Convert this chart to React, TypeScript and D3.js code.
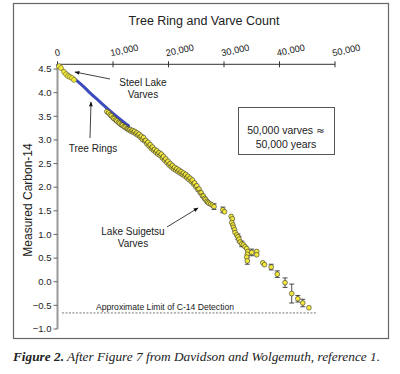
import React from "react";
import * as d3 from "d3";

const xTicks = [0, 10000, 20000, 30000, 40000, 50000];
const yTicks = [4.5, 4.0, 3.5, 3.0, 2.5, 2.0, 1.5, 1.0, 0.5, 0.0, -0.5, -1.0];

const treeX = [0, 800, 1900, 3300, 4600, 5900, 7700, 9100, 10700, 12000, 12800];
const treeY = [4.58, 4.5, 4.39, 4.27, 4.14, 3.99, 3.8, 3.65, 3.49, 3.37, 3.3];

const steelX = [270, 630, 1170, 1530, 1890, 2250, 2610, 2970];
const steelY = [4.56, 4.52, 4.44, 4.39, 4.35, 4.33, 4.31, 4.27];

const suigX = [
  8900, 9200, 9500, 9700, 10000, 10200, 10500, 10700, 11000, 11200, 11500, 11700, 12000, 12200,
  12500, 12700, 12900, 13100, 13300, 13500, 13700, 13900, 14100, 14300, 14500, 14700, 14900,
  15100, 15300, 15500, 15700, 15900, 16100, 16300, 16500, 16700, 16900, 17100, 17300, 17500,
  17700, 17900, 18100, 18300, 18500, 18700, 18900, 19100, 19300, 19500, 19700, 19900, 20100,
  20300, 20500, 20700, 20900, 21100, 21300, 21500, 21700, 21900, 22100, 22300, 22500, 22700,
  22900, 23100, 23300, 23500, 23700, 23900, 24100, 24300, 24500, 24700, 24900, 25100, 25300,
  25500, 25700, 25900, 26100, 26300, 26500, 26700, 26900, 27100, 27300, 27600, 27900, 28200,
  29800, 30100, 31300, 31500, 31400, 31600, 31700, 31900, 32000, 32300, 32500, 32700, 32900,
  33200, 33500, 33800, 34100, 34300, 34200, 34100, 34200, 35000, 35900, 35900, 37000, 37300,
  38500, 39600, 41000, 42200, 43300, 44200, 45300,
];
const suigY = [
  3.6, 3.57, 3.53, 3.51, 3.47, 3.45, 3.42, 3.4, 3.37, 3.35, 3.32, 3.31, 3.28, 3.27,
  3.24, 3.23, 3.21, 3.22, 3.18, 3.2, 3.16, 3.18, 3.13, 3.15, 3.1, 3.12, 3.06,
  3.08, 3.01, 3.05, 2.98, 2.99, 2.92, 2.95, 2.87, 2.9, 2.82, 2.85, 2.78, 2.8,
  2.74, 2.77, 2.7, 2.73, 2.67, 2.7, 2.62, 2.65, 2.57, 2.6, 2.52, 2.55, 2.47,
  2.5, 2.43, 2.46, 2.39, 2.42, 2.36, 2.39, 2.33, 2.36, 2.3, 2.33, 2.27, 2.3,
  2.24, 2.27, 2.2, 2.23, 2.16, 2.19, 2.12, 2.15, 2.07, 2.09, 2.01, 2.03, 1.95,
  1.96, 1.89, 1.88, 1.82, 1.81, 1.76, 1.74, 1.7, 1.68, 1.66, 1.64, 1.62, 1.59,
  1.52, 1.48, 1.38, 1.33, 1.25, 1.2, 1.15, 1.1, 1.04, 0.99, 0.95, 0.9, 0.84,
  0.8, 0.78, 0.74, 0.7, 0.64, 0.58, 0.52, 0.44, 0.62, 0.64, 0.57, 0.4, 0.36,
  0.31, 0.16, -0.02, -0.25, -0.36, -0.45, -0.55,
];
const suigErr = [
  0, 0, 0, 0, 0, 0, 0, 0, 0, 0, 0, 0, 0, 0,
  0, 0, 0, 0, 0, 0, 0, 0, 0, 0, 0, 0, 0,
  0, 0, 0, 0, 0, 0, 0, 0, 0, 0, 0, 0, 0,
  0, 0, 0, 0, 0, 0, 0, 0, 0, 0, 0, 0, 0,
  0, 0, 0, 0, 0, 0, 0, 0, 0, 0, 0, 0, 0,
  0, 0, 0, 0, 0, 0, 0, 0, 0, 0, 0, 0, 0,
  0, 0, 0, 0, 0, 0, 0, 0, 0, 0, 0, 0,
  0.06, 0.06, 0, 0, 0, 0, 0, 0, 0, 0, 0, 0.06, 0.06,
  0, 0.06, 0, 0, 0, 0, 0, 0, 0.07, 0.07, 0, 0, 0,
  0, 0.06, 0.07, 0.1, 0.2, 0.07, 0.08,
];

const limitX = [800, 46700];
const limitY = -0.66;

export default function App() {
  const W = 400;
  const H = 374;
  const x = d3.scaleLinear().domain([0, 50000]).range([57.5, 335]);
  const y = d3.scaleLinear().domain([-1.0, 4.6]).range([329, 64.3]);
  const line = d3
    .line<number>()
    .x((_, i) => x(treeX[i]))
    .y((d) => y(d))
    .curve(d3.curveMonotoneX);
  const sans = "'Liberation Sans', Arial, sans-serif";
  const yellow = "#f3e83a";
  const fmt = d3.format(",");
  const yFmt = d3.format(".1f");

  return (
    <svg width={W} height={H} style={{ position: "absolute", left: 0, top: 0 }}>
      <defs>
        <marker id="ah" viewBox="0 0 10 10" refX="9" refY="5" markerWidth="7" markerHeight="6" orient="auto">
          <path d="M0,1 L10,5 L0,9 Z" fill="#111" />
        </marker>
      </defs>
      <rect x={0} y={0} width={W} height={H} fill="#fff" />
      <rect x={13.5} y={3.5} width={375} height={335} fill="none" stroke="#666" strokeWidth={1.2} />

      <text x={204} y={25} textAnchor="middle" fontFamily={sans} fontSize={12.5} fill="#222">
        Tree Ring and Varve Count
      </text>

      {/* top x axis */}
      <line x1={x(0)} x2={x(50000)} y1={y(4.6)} y2={y(4.6)} stroke="#333" strokeWidth={1} />
      {xTicks.map((t) => (
        <g key={t}>
          <line x1={x(t)} x2={x(t)} y1={y(4.6) - 3} y2={y(4.6) + 3} stroke="#333" strokeWidth={1} />
          <text
            transform={`translate(${x(t) - 2},${y(4.6) - 8}) rotate(-12)`}
            fontFamily={sans}
            fontSize={9.3}
            fill="#222"
          >
            {fmt(t)}
          </text>
        </g>
      ))}

      {/* left y axis */}
      <line x1={x(0)} x2={x(0)} y1={y(4.6)} y2={y(-1.0)} stroke="#999" strokeWidth={2} />
      {yTicks.map((t) => (
        <g key={t}>
          <line x1={x(0) - 4} x2={x(0)} y1={y(t)} y2={y(t)} stroke="#666" strokeWidth={1} />
          <text x={x(0) - 6} y={y(t) + 3.3} textAnchor="end" fontFamily={sans} fontSize={9.5} fill="#222">
            {yFmt(t)}
          </text>
        </g>
      ))}
      <text
        transform={`translate(32,200) rotate(-90)`}
        textAnchor="middle"
        fontFamily={sans}
        fontSize={12}
        fill="#222"
      >
        Measured Carbon-14
      </text>

      {/* limit line */}
      <line
        x1={x(limitX[0])}
        x2={x(limitX[1])}
        y1={y(limitY)}
        y2={y(limitY)}
        stroke="#777"
        strokeWidth={1}
        strokeDasharray="2,1.5"
      />
      <text x={165} y={310} textAnchor="middle" fontFamily={sans} fontSize={8.6} fill="#222">
        Approximate Limit of C-14 Detection
      </text>

      {/* tree ring line */}
      <path d={line(treeY) || ""} fill="none" stroke="#3b4bbd" strokeWidth={3} strokeLinecap="round" />

      {/* suigetsu error bars */}
      {suigX.map((v, i) =>
        suigErr[i] > 0 ? (
          <g key={"e" + i} stroke="#222" strokeWidth={0.8}>
            <line x1={x(v)} x2={x(v)} y1={y(suigY[i] - suigErr[i])} y2={y(suigY[i] + suigErr[i])} />
            <line x1={x(v) - 2.5} x2={x(v) + 2.5} y1={y(suigY[i] - suigErr[i])} y2={y(suigY[i] - suigErr[i])} />
            <line x1={x(v) - 2.5} x2={x(v) + 2.5} y1={y(suigY[i] + suigErr[i])} y2={y(suigY[i] + suigErr[i])} />
          </g>
        ) : null
      )}
      {suigX.map((v, i) => (
        <circle key={"p" + i} cx={x(v)} cy={y(suigY[i])} r={2.4} fill={yellow} stroke="#333" strokeWidth={0.6} />
      ))}

      {/* steel lake */}
      {steelX.map((v, i) => (
        <circle key={"s" + i} cx={x(v)} cy={y(steelY[i])} r={2.5} fill={yellow} stroke="#6b6a30" strokeWidth={0.6} />
      ))}

      {/* annotations */}
      <text x={143} y={86} textAnchor="middle" fontFamily={sans} fontSize={10} fill="#222">
        Steel Lake
      </text>
      <text x={143} y={98} textAnchor="middle" fontFamily={sans} fontSize={10} fill="#222">
        Varves
      </text>
      <line x1={110} y1={79} x2={75} y2={72} stroke="#111" strokeWidth={0.8} markerEnd="url(#ah)" />

      <text x={93} y={152} textAnchor="middle" fontFamily={sans} fontSize={10} fill="#222">
        Tree Rings
      </text>
      <line x1={90} y1={138} x2={91} y2={102} stroke="#111" strokeWidth={0.8} markerEnd="url(#ah)" />

      <text x={133} y={235} textAnchor="middle" fontFamily={sans} fontSize={10} fill="#222">
        Lake Suigetsu
      </text>
      <text x={133} y={247} textAnchor="middle" fontFamily={sans} fontSize={10} fill="#222">
        Varves
      </text>
      <line x1={167} y1={227} x2={198} y2={208} stroke="#111" strokeWidth={0.8} markerEnd="url(#ah)" />

      <rect x={238.5} y={107.5} width={96} height={47} fill="#fff" stroke="#555" strokeWidth={1} />
      <text x={286} y={134} textAnchor="middle" fontFamily={sans} fontSize={10.5} fill="#222">
        50,000 varves <tspan fontFamily="'DejaVu Sans', sans-serif">≈</tspan>
      </text>
      <text x={286} y={148} textAnchor="middle" fontFamily={sans} fontSize={10.5} fill="#222">
        50,000 years
      </text>

      <text x={13} y={361} fontFamily="'Liberation Serif', 'Times New Roman', serif" fontStyle="italic" fontSize={13.3} fill="#222">
        <tspan fontWeight="bold">Figure 2.</tspan> After Figure 7 from Davidson and Wolgemuth, reference 1.
      </text>
    </svg>
  );
}
